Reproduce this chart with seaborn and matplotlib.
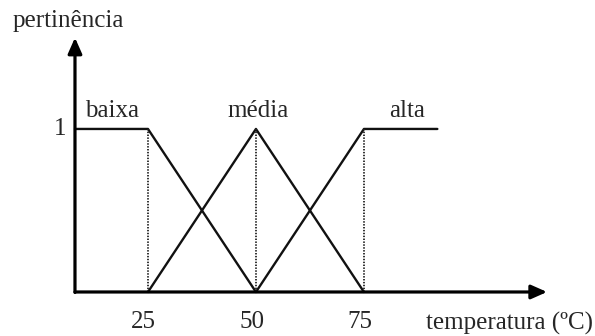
import seaborn as sns
import pandas as pd
import matplotlib.pyplot as plt

# membership functions (temperatura -> pertinencia)
baixa_x = [8.1, 25, 50]
baixa_y = [1, 1, 0]
media_x = [25, 50, 75]
media_y = [0, 1, 0]
alta_x = [50, 75, 92]
alta_y = [0, 1, 1]

conjuntos = ["baixa", "média", "alta"]
ticks = [25, 50, 75]
label_pos = [16.7, 50.5, 85]

df = pd.concat([
    pd.DataFrame({"temp": baixa_x, "mu": baixa_y, "conj": "baixa"}),
    pd.DataFrame({"temp": media_x, "mu": media_y, "conj": "média"}),
    pd.DataFrame({"temp": alta_x, "mu": alta_y, "conj": "alta"}),
])

sns.set_style("white")
plt.rcParams["font.family"] = ["Liberation Serif", "DejaVu Serif"]
fs = 18

fig = plt.figure(figsize=(5.95, 3.36), dpi=100)
ax = fig.add_axes([0, 0, 1, 1])

sns.lineplot(data=df, x="temp", y="mu", hue="conj", units="conj",
             estimator=None, sort=False, legend=False,
             palette={c: "#111111" for c in conjuntos}, lw=1.7, ax=ax)

# dotted guides
ax.vlines(ticks, 0, 1, colors="#222222", linestyles=(0, (0.8, 0.8)), lw=1.3)

# axes with arrows
arr = dict(arrowstyle="-|>,head_length=0.95,head_width=0.42", lw=2.3,
           color="black", shrinkA=0, shrinkB=0, mutation_scale=10)
ax.annotate("", xy=(117.4, 0), xytext=(8.1, 0), arrowprops=arr)
ax.annotate("", xy=(8.1, 1.56), xytext=(8.1, -0.003), arrowprops=arr)

for t in ticks:
    ax.text(t - 1, -0.182, str(t), ha="center", va="center", fontsize=fs)
ax.text(6.0, 1.0, "1", ha="right", va="center", fontsize=fs)

for name, xp in zip(conjuntos, label_pos):
    ax.text(xp, 1.074, name, ha="center", va="baseline", fontsize=fs)

ax.text(128.0, -0.233, "temperatura (ºC)", ha="right", va="baseline", fontsize=fs)
ax.text(-6.25, 1.626, "pertinência", ha="left", va="baseline", fontsize=fs)

ax.set_xlim(-9.26, 128.5)
ax.set_ylim(-0.270, 1.791)
ax.axis("off")

fig.savefig("out.png", dpi=100, facecolor="white")
